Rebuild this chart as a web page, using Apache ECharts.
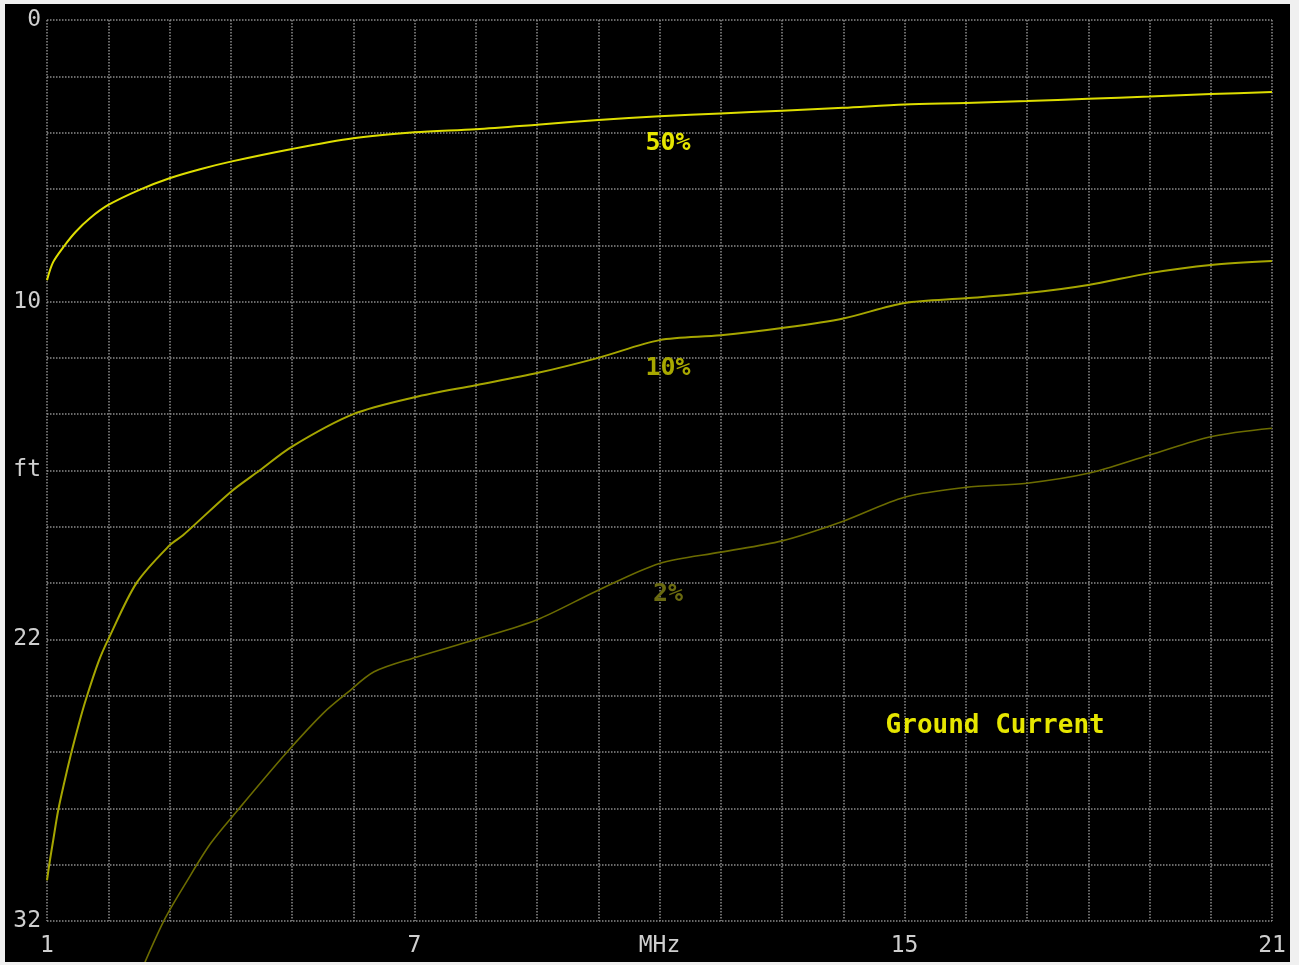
<!DOCTYPE html>
<html>
<head>
<meta charset="utf-8">
<script src="https://cdn.jsdelivr.net/npm/echarts@6/dist/echarts.min.js"></script>
<style>
  html, body { margin: 0; padding: 0; background: #f0f0f0; width: 1299px; height: 965px; overflow: hidden; }
  #chart { position: absolute; left: 5px; top: 4px; width: 1285px; height: 958px; background: #000; }
</style>
</head>
<body>
<div id="chart"></div>
<script>
// Frequency (MHz) / depth (ft) readings for each curve
const freq50 = [1, 1.1, 1.29, 1.47, 1.7, 2, 2.5, 3, 3.5, 4, 5, 6, 7, 8, 9, 10, 11, 12, 13, 14, 15, 16, 17, 18, 19, 20, 21];
const depth50 = [9.24, 8.6, 8.0, 7.52, 7.04, 6.57, 6.04, 5.62, 5.3, 5.03, 4.58, 4.2, 3.99, 3.88, 3.72, 3.55, 3.42, 3.32, 3.22, 3.12, 3.0, 2.95, 2.88, 2.8, 2.72, 2.63, 2.56];

const freq10 = [1, 1.04, 1.1, 1.18, 1.28, 1.4, 1.52, 1.64, 1.84, 2, 2.46, 3, 3.22, 4, 4.47, 5, 6, 7, 8, 9, 10, 11, 12, 13, 14, 15, 16, 17, 18, 19, 20, 21];
const depth10 = [30.56, 29.95, 29.15, 28.1, 27.1, 26.0, 25.0, 24.1, 22.8, 22.0, 20.0, 18.66, 18.3, 16.76, 16.0, 15.15, 14.0, 13.4, 12.97, 12.54, 12.0, 11.37, 11.2, 10.94, 10.6, 10.05, 9.88, 9.7, 9.41, 8.99, 8.7, 8.56];

const freq2 = [2.6, 2.93, 3.28, 3.67, 4.1, 4.92, 5.52, 5.9, 6.34, 7, 8, 9, 10, 11, 12, 13, 14, 15, 16, 17, 18, 19, 20, 21];
const depth2 = [33.46, 31.9, 30.6, 29.25, 28.1, 26.0, 24.6, 23.9, 23.15, 22.65, 22.0, 21.3, 20.25, 19.3, 18.9, 18.5, 17.8, 16.95, 16.6, 16.45, 16.1, 15.45, 14.8, 14.5];

const xTickLabels = { 1: '1', 7: '7', 11: 'MHz', 15: '15', 21: '21' };
const yTickLabels = { 0: '0', 10: '10', 16: 'ft', 22: '22', 32: '32' };

const seriesNames = ['50%', '10%', '2%'];
const chartTitle = 'Ground Current';

function pairs(xs, ys) { return xs.map((x, i) => [x, ys[i]]); }

const mono = 'DejaVu Sans Mono';
const chart = echarts.init(document.getElementById('chart'));

function curve(name, data, color, width, labelCoord, labelColor) {
  return {
    name: name,
    type: 'line',
    data: data,
    smooth: 0.3,
    showSymbol: false,
    clip: false,
    lineStyle: { color: color, width: width },
    markPoint: {
      symbol: 'circle', symbolSize: 0, silent: true,
      data: [{ coord: labelCoord, value: name }],
      label: { show: true, position: 'inside', formatter: name, color: labelColor,
               fontFamily: mono, fontSize: 25, fontWeight: 'bold' }
    }
  };
}

chart.setOption({
  backgroundColor: '#000',
  animation: false,
  grid: { left: 42, right: 18, top: 16, bottom: 41 },
  xAxis: {
    type: 'value', min: 1, max: 21, interval: 1,
    axisLine: { show: false }, axisTick: { show: false },
    axisLabel: {
      color: '#cfcfcf', fontFamily: mono, fontSize: 23, margin: 14,
      formatter: v => xTickLabels[v] || ''
    },
    splitLine: { show: true, lineStyle: { color: '#8c8c8c', width: 1.5, type: [1.5, 1.5] } }
  },
  yAxis: {
    type: 'value', min: 0, max: 32, interval: 2, inverse: true,
    axisLine: { show: false }, axisTick: { show: false },
    axisLabel: {
      color: '#cfcfcf', fontFamily: mono, fontSize: 23, margin: 6,
      formatter: v => yTickLabels[v] || ''
    },
    splitLine: { show: true, lineStyle: { color: '#8c8c8c', width: 1.5, type: [1.5, 1.5] } }
  },
  series: [
    curve(seriesNames[0], pairs(freq50, depth50), '#dede00', 2, [11.14, 4.4], '#e6e600'),
    curve(seriesNames[1], pairs(freq10, depth10), '#a6a600', 2, [11.14, 12.36], '#a8a800'),
    curve(seriesNames[2], pairs(freq2, depth2), '#6c6c00', 1.6, [11.14, 20.4], '#6a6a10'),
    {
      name: chartTitle, type: 'scatter', data: [], silent: true,
      markPoint: {
        symbol: 'circle', symbolSize: 0, silent: true,
        data: [{ coord: [16.48, 25.08], value: chartTitle }],
        label: { show: true, position: 'inside', formatter: chartTitle, color: '#e6e600',
                 fontFamily: mono, fontSize: 26, fontWeight: 'bold' }
      }
    }
  ]
});
</script>
</body>
</html>
